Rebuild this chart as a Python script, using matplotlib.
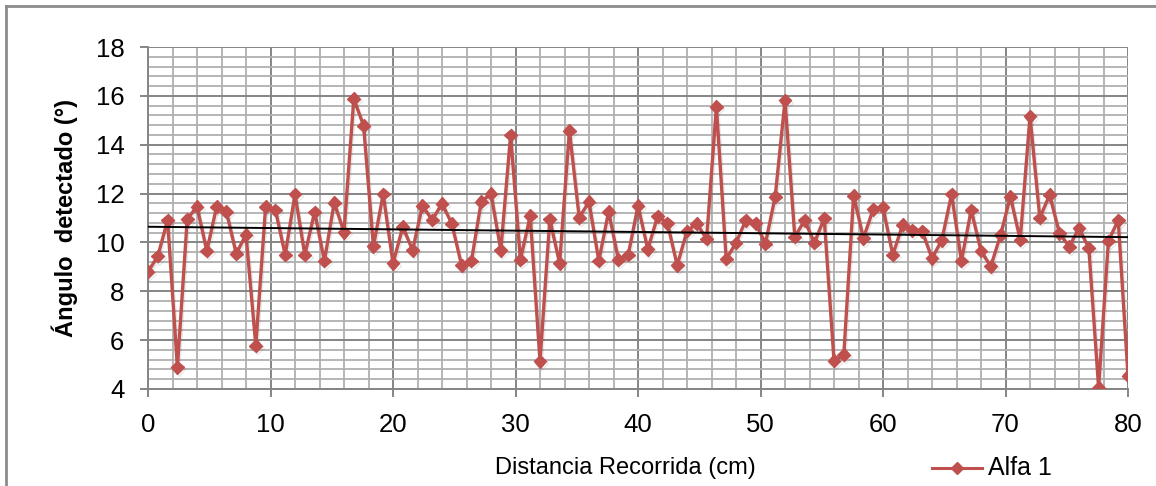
import numpy as np
import matplotlib
matplotlib.use("Agg")
import matplotlib.pyplot as plt
from matplotlib.lines import Line2D
from matplotlib.ticker import MultipleLocator
import matplotlib.patheffects as pe
from matplotlib import font_manager

# Distance travelled (cm): one reading every 0.8 cm from 0 to 80
distancia = np.round(np.arange(101) * 0.8, 1)

# Detected angle (degrees) for series "Alfa 1"
angulo = [
    8.80, 9.44, 10.91, 4.89, 10.95, 11.47, 9.65, 11.46, 11.26, 9.54,
    10.32, 5.78, 11.46, 11.33, 9.49, 11.98, 9.49, 11.25, 9.24, 11.63,
    10.42, 15.88, 14.78, 9.84, 11.98, 9.14, 10.64, 9.68, 11.50, 10.92,
    11.59, 10.77, 9.06, 9.24, 11.66, 12.00, 9.68, 14.40, 9.29, 11.09,
    5.13, 10.95, 9.14, 14.58, 11.02, 11.66, 9.24, 11.26, 9.29, 9.49,
    11.50, 9.72, 11.07, 10.79, 9.06, 10.47, 10.77, 10.14, 15.56, 9.32,
    9.98, 10.91, 10.79, 9.95, 11.88, 15.81, 10.22, 10.91, 9.98, 10.99,
    5.16, 5.41, 11.92, 10.17, 11.36, 11.43, 9.49, 10.72, 10.50, 10.46,
    9.35, 10.09, 11.98, 9.24, 11.33, 9.65, 9.02, 10.31, 11.88, 10.10,
    15.17, 11.00, 11.95, 10.38, 9.83, 10.58, 9.77, 4.06, 10.06, 10.91,
    4.54,
]

serie = "Alfa 1"
x_label = "Distancia Recorrida (cm)"
y_label = "Ángulo  detectado (°)"
x_ticks = [0, 10, 20, 30, 40, 50, 60, 70, 80]
y_ticks = [4, 6, 8, 10, 12, 14, 16, 18]

available = {f.name for f in font_manager.fontManager.ttflist}
base_font = "Liberation Sans" if "Liberation Sans" in available else "DejaVu Sans"
narrow_font = "Liberation Sans Narrow" if "Liberation Sans Narrow" in available else base_font

W, H = 1156, 486
fig = plt.figure(figsize=(W / 100, H / 100), dpi=100)
fig.patch.set_facecolor("white")

# outer chart frame (left and top edges visible)
frame_col = "#8c8c8c"
fig.add_artist(Line2D([6 / W, 6 / W], [0, 1 - 6 / H], transform=fig.transFigure,
                      color=frame_col, lw=2))
fig.add_artist(Line2D([6 / W, 1], [1 - 6 / H, 1 - 6 / H], transform=fig.transFigure,
                      color=frame_col, lw=2))

left, right, top, bottom = 148, 1128, 47, 389
ax = fig.add_axes([left / W, 1 - bottom / H, (right - left) / W, (bottom - top) / H])

ax.set_xlim(0, 80)
ax.set_ylim(4, 18)
ax.set_xticks(x_ticks)
ax.set_yticks(y_ticks)
ax.xaxis.set_minor_locator(MultipleLocator(2))
ax.yaxis.set_minor_locator(MultipleLocator(0.4))

major_col = "#858585"
minor_col = "#b0b0b0"
ax.grid(which="minor", color=minor_col, lw=1.3, zorder=0)
ax.grid(which="major", color=major_col, lw=1.4, zorder=0.5)
ax.set_axisbelow(True)

for side in ("top", "right"):
    ax.spines[side].set_visible(False)
for side in ("left", "bottom"):
    ax.spines[side].set_color(major_col)
    ax.spines[side].set_linewidth(1.4)

ax.tick_params(which="major", direction="out", length=6, width=1.4, color=major_col,
               labelsize=18.5, pad=11)
ax.tick_params(which="minor", length=0)
for lab in ax.get_xticklabels() + ax.get_yticklabels():
    lab.set_fontfamily(base_font)

red = "#c0504d"
shadow = [pe.SimpleLineShadow(offset=(1.0, -1.5), alpha=0.12, shadow_color="#444444"), pe.Normal()]
ax.plot(distancia, angulo, color=red, lw=2.4, marker="D", markersize=6.5,
        markerfacecolor=red, markeredgecolor=red, zorder=3, path_effects=shadow)

# linear trend line of the series
coef = np.polyfit(distancia, angulo, 1)
ax.plot([0, 80], np.polyval(coef, [0, 80]), color="black", lw=1.4, zorder=4)

fig.text(625 / W, 1 - 468 / H, x_label, ha="center", va="center",
         fontsize=17, family=narrow_font)
fig.text(65 / W, 1 - 218 / H, y_label, ha="center", va="center", rotation=90,
         fontsize=17, family=narrow_font, fontweight="bold")

# legend entry
leg_y = 1 - 468 / H
fig.add_artist(Line2D([932 / W, 982 / W], [leg_y, leg_y], transform=fig.transFigure,
                      color=red, lw=2.2))
fig.add_artist(Line2D([957 / W], [leg_y], transform=fig.transFigure, marker="D",
                      markersize=6.5, color=red, lw=0))
fig.text(988 / W, leg_y, serie, ha="left", va="center", fontsize=18, family=base_font)

fig.savefig("out.png", dpi=100, facecolor="white")
